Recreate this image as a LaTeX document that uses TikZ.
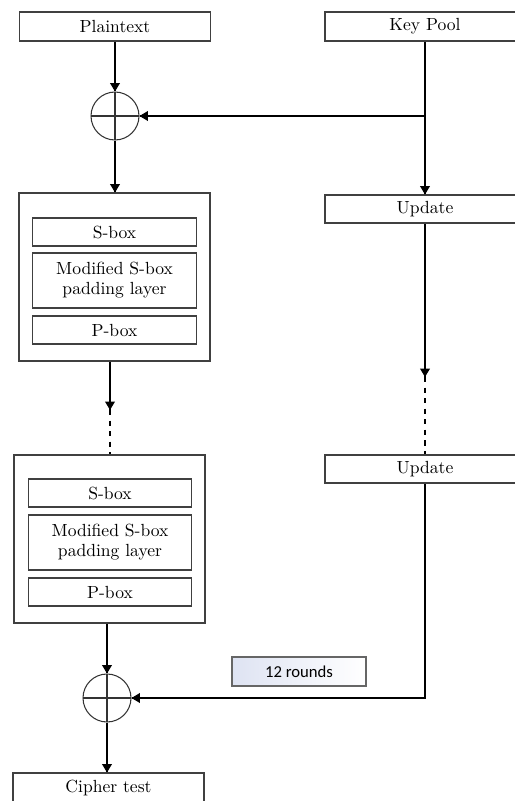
\documentclass[tikz,border=0pt]{standalone}
\usepackage{fontspec}
\newfontfamily\roundsfont{Carlito}
\usepackage{tikz}
\usetikzlibrary{arrows.meta}
\usetikzlibrary{decorations.markings}
\usetikzlibrary{positioning}
\tikzset{arr/.style = {decoration={markings,
                                  mark=at position 1 with {\arrow{Triangle[length=4.8pt, width=5.6pt]}}},
                      postaction={decorate}}}
\tikzset{blk/.style = {draw=black!75, fill=white, minimum width=3.82cm, minimum height=0.58cm, inner sep=0, font=\rmfamily\fontsize{10}{11.5}\selectfont}}
\tikzset{inbox/.style = {blk, minimum width=3.27cm, align=center}}
\tikzset{outer/.style = {draw=black!75, minimum width=3.82cm, minimum height=3.36cm, inner sep=0}}
\tikzset{xorop/.style = {draw=black!80, circle, minimum size=0.96cm, inner sep=0,
                         path picture={\draw[black!80] (path picture bounding box.north) -- (path picture bounding box.south)
                                       (path picture bounding box.west) -- (path picture bounding box.east);}}}
\definecolor{mlav}{rgb}{0.87, 0.89, 0.95}

\begin{document}
\begin{tikzpicture}[x=0.02cm, y=-0.02cm, line width=0.6pt]
      \useasboundingbox (0, 0) rectangle (514, 801);

      \node [blk] (plain) at (115, 26.5) {Plaintext};
      \node [blk, minimum width=4cm] (pool) at (425, 26.5) {Key Pool};

      \node [xorop] (xor1) at (115, 116) {};
      \coordinate (k1) at (425, 116);

      \node [outer] (rnd1) at (114.5, 277) {};
      \node [inbox, minimum height=0.56cm] (sbox1) at (114.5, 232) {S-box};
      \node [inbox, minimum height=1.1cm] (pad1) at (114.5, 280.5) {Modified S-box\\padding layer};
      \node [inbox, minimum height=0.56cm] (pbox1) at (114.5, 330) {P-box};

      \node [blk, minimum width=4cm, minimum height=0.56cm] (upd1) at (425, 209) {Update};
      \node [blk, minimum width=4cm, minimum height=0.56cm] (upd2) at (425, 469) {Update};

      \coordinate (m1) at (110, 410);
      \coordinate (m2) at (425, 377);

      \node [outer] (rnd2) at (109.5, 539) {};
      \node [inbox, minimum height=0.56cm] (sbox2) at (110, 493) {S-box};
      \node [inbox, minimum height=1.1cm] (pad2) at (110, 542.5) {Modified S-box\\padding layer};
      \node [inbox, minimum height=0.56cm] (pbox2) at (110, 592) {P-box};

      \node [xorop] (xor2) at (107, 698) {};
      \node [draw=black!60, left color=mlav, right color=white, minimum width=2.68cm, minimum height=0.58cm,
             inner sep=0, font=\roundsfont\fontsize{9.5}{11}\selectfont] (rounds) at (299, 671.5) {12 rounds};

      \node [blk] (cipher) at (108.5, 787.5) {Cipher test};

      \draw [arr] (plain) -- (xor1);
      \draw [arr] (xor1) -- (rnd1.north -| xor1);
      \draw [arr] (pool.south -| k1) -- (upd1);
      \draw [arr] (k1) -- (xor1);

      \draw [arr] (rnd1.south -| m1) -- (m1);
      \draw [dashed] (m1) -- (rnd2.north -| m1);
      \draw [arr] (upd1) -- (m2);
      \draw [dashed] (m2) -- (upd2);

      \draw [arr] (rnd2.south -| xor2) -- (xor2);
      \draw [arr] (upd2) |- (xor2);
      \draw [arr] (xor2) -- (cipher.north -| xor2);
    \end{tikzpicture}
\end{document}
